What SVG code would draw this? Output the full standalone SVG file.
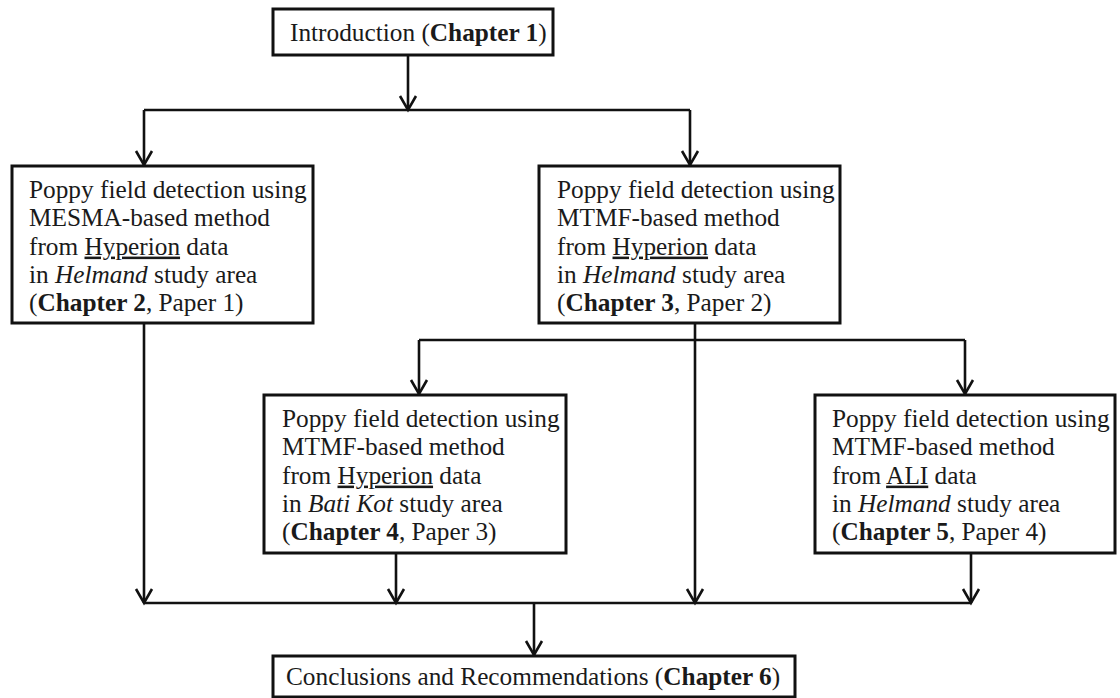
<svg xmlns="http://www.w3.org/2000/svg" width="1120" height="698" viewBox="0 0 1120 698">
<style>
.box{fill:#fff;stroke:#111;stroke-width:3}
.t{font-family:"Liberation Serif","Times New Roman",serif;font-size:25.3px;fill:#1a1a1a}
.b{font-weight:bold}
.i{font-style:italic}
.u{text-decoration:underline}
.c{fill:none;stroke:#111;stroke-width:2.6}
</style>
<defs>
<marker id="ah" viewBox="-16 -10 18 20" refX="0" refY="0" markerWidth="18" markerHeight="20" markerUnits="userSpaceOnUse" orient="auto" overflow="visible">
<path d="M-14,-8 L0,0 L-14,8" fill="none" stroke="#111" stroke-width="2.6"/>
</marker>
</defs>
<rect width="1120" height="698" fill="#fff"/>
<g id="connectors">
<path class="c" d="M408,55 V110" marker-end="url(#ah)"/>
<path class="c" d="M144,110 H690"/>
<path class="c" d="M144,110 V165" marker-end="url(#ah)"/>
<path class="c" d="M690,110 V165" marker-end="url(#ah)"/>
<path class="c" d="M695,323 V603" marker-end="url(#ah)"/>
<path class="c" d="M419,340 H965"/>
<path class="c" d="M419,340 V394" marker-end="url(#ah)"/>
<path class="c" d="M965,340 V394" marker-end="url(#ah)"/>
<path class="c" d="M144,323 V603" marker-end="url(#ah)"/>
<path class="c" d="M396,553 V603" marker-end="url(#ah)"/>
<path class="c" d="M971,553 V603" marker-end="url(#ah)"/>
<path class="c" d="M144,603 H971"/>
<path class="c" d="M534,603 V655" marker-end="url(#ah)"/>
</g>
<g id="intro">
<rect class="box" x="273" y="9" width="280" height="46"/>
<text class="t" x="290" y="41">Introduction (<tspan class="b">Chapter 1</tspan>)</text>
</g>
<g id="ch2">
<rect class="box" x="12" y="166" width="301" height="157"/>
<text class="t" x="29" y="198">Poppy field detection using</text>
<text class="t" x="29" y="226.3">MESMA-based method</text>
<text class="t" x="29" y="254.6">from <tspan class="u">Hyperion</tspan> data</text>
<text class="t" x="29" y="282.9">in <tspan class="i">Helmand</tspan> study area</text>
<text class="t" x="29" y="311.2">(<tspan class="b">Chapter 2</tspan>, Paper 1)</text>
</g>
<g id="ch3">
<rect class="box" x="539" y="166" width="301" height="157"/>
<text class="t" x="557" y="198">Poppy field detection using</text>
<text class="t" x="557" y="226.3">MTMF-based method</text>
<text class="t" x="557" y="254.6">from <tspan class="u">Hyperion</tspan> data</text>
<text class="t" x="557" y="282.9">in <tspan class="i">Helmand</tspan> study area</text>
<text class="t" x="557" y="311.2">(<tspan class="b">Chapter 3</tspan>, Paper 2)</text>
</g>
<g id="ch4">
<rect class="box" x="264" y="395" width="302" height="158"/>
<text class="t" x="282" y="427">Poppy field detection using</text>
<text class="t" x="282" y="455.3">MTMF-based method</text>
<text class="t" x="282" y="483.6">from <tspan class="u">Hyperion</tspan> data</text>
<text class="t" x="282" y="511.9">in <tspan class="i">Bati Kot</tspan> study area</text>
<text class="t" x="282" y="540.2">(<tspan class="b">Chapter 4</tspan>, Paper 3)</text>
</g>
<g id="ch5">
<rect class="box" x="815" y="395" width="300" height="158"/>
<text class="t" x="832" y="427">Poppy field detection using</text>
<text class="t" x="832" y="455.3">MTMF-based method</text>
<text class="t" x="832" y="483.6">from <tspan class="u">ALI</tspan> data</text>
<text class="t" x="832" y="511.9">in <tspan class="i">Helmand</tspan> study area</text>
<text class="t" x="832" y="540.2">(<tspan class="b">Chapter 5</tspan>, Paper 4)</text>
</g>
<g id="conclusion">
<rect class="box" x="273" y="656" width="522" height="41"/>
<text class="t" x="286" y="685">Conclusions and Recommendations (<tspan class="b">Chapter 6</tspan>)</text>
</g>
</svg>
